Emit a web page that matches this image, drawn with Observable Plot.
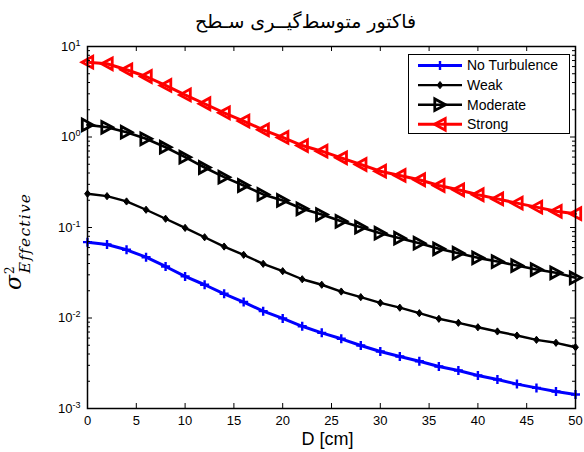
<!DOCTYPE html>
<html>
<head>
<meta charset="utf-8">
<script src="https://cdn.jsdelivr.net/npm/d3@7"></script>
<script src="https://cdn.jsdelivr.net/npm/@observablehq/plot@0.6"></script>
<style>
  body { margin: 0; background: #fff; }
  #chart { width: 584px; height: 452px; }
  svg { overflow: visible; }
</style>
</head>
<body>
<div id="chart"></div>
<script>
// Receiver aperture diameter D [cm]
const distance = [0, 2, 4, 6, 8, 10, 12, 14, 16, 18, 20, 22, 24, 26, 28, 30, 32, 34, 36, 38, 40, 42, 44, 46, 48, 50];

// Effective scintillation index per turbulence regime
const noTurbulence = [0.0689, 0.0649, 0.0567, 0.047, 0.0371, 0.0288, 0.0233, 0.0185, 0.015, 0.0119, 0.0099, 0.0081, 0.00685, 0.00589, 0.00497, 0.00426, 0.00376, 0.00333, 0.00291, 0.00263, 0.00232, 0.00209, 0.00186, 0.00169, 0.00154, 0.00143];
const weak = [0.236, 0.222, 0.194, 0.157, 0.125, 0.099, 0.078, 0.0616, 0.0499, 0.0397, 0.0329, 0.0268, 0.0233, 0.0196, 0.017, 0.0147, 0.013, 0.0113, 0.0098, 0.00885, 0.0079, 0.0071, 0.0064, 0.00574, 0.00532, 0.00475];
const moderate = [1.36, 1.28, 1.13, 0.955, 0.771, 0.598, 0.46, 0.36, 0.291, 0.232, 0.199, 0.161, 0.139, 0.117, 0.1007, 0.0865, 0.0762, 0.0671, 0.0582, 0.052, 0.0462, 0.042, 0.038, 0.0343, 0.0316, 0.0278];
const strong = [6.71, 6.44, 5.53, 4.66, 3.71, 2.92, 2.33, 1.85, 1.5, 1.2, 0.99, 0.805, 0.697, 0.589, 0.497, 0.419, 0.376, 0.337, 0.291, 0.261, 0.23, 0.207, 0.186, 0.168, 0.151, 0.142];

const seriesNames = ["No Turbulence", "Weak", "Moderate", "Strong"];
const titleText = "فاکتور متوسط‌گیــری سـطح";
const xLabel = "D [cm]";
const xTicks = [0, 5, 10, 15, 20, 25, 30, 35, 40, 45, 50];
const yTicks = [1e-3, 1e-2, 1e-1, 1, 10];
const yMinorTicks = [1e-3, 1e-2, 1e-1, 1].flatMap(d => [2, 3, 4, 5, 6, 7, 8, 9].map(k => k * d));

// Marker shapes (d3-symbol compatible)
const plusSym = {draw(ctx, size) { const r = Math.sqrt(size / Math.PI); ctx.moveTo(-r, 0); ctx.lineTo(r, 0); ctx.moveTo(0, -r); ctx.lineTo(0, r); }};
const diamondSym = {draw(ctx, size) { const r = Math.sqrt(size / Math.PI); ctx.moveTo(0, -r); ctx.lineTo(r * 0.8, 0); ctx.lineTo(0, r); ctx.lineTo(-r * 0.8, 0); ctx.closePath(); }};
const triRightSym = {draw(ctx, size) { const r = Math.sqrt(size / Math.PI); ctx.moveTo(r * 0.95, 0); ctx.lineTo(-r * 0.9, -r); ctx.lineTo(-r * 0.9, r); ctx.closePath(); }};
const triLeftSym = {draw(ctx, size) { const r = Math.sqrt(size / Math.PI); ctx.moveTo(-r * 0.95, 0); ctx.lineTo(r * 0.9, -r); ctx.lineTo(r * 0.9, r); ctx.closePath(); }};

const styles = [
  {values: noTurbulence, color: "#0000ff", lineWidth: 3, symbol: plusSym, r: 4.5, fill: "none", markerWidth: 2.4},
  {values: weak, color: "#000000", lineWidth: 2.4, symbol: diamondSym, r: 3.6, fill: "#000000", markerWidth: 1},
  {values: moderate, color: "#000000", lineWidth: 2.6, symbol: triRightSym, r: 5.8, fill: "none", markerWidth: 2.8},
  {values: strong, color: "#ff0000", lineWidth: 3, symbol: triLeftSym, r: 5.8, fill: "none", markerWidth: 2.8}
];

const W = 584, H = 452, mL = 87, mR = 9, mT = 46, mB = 44;
const frameW = W - mL - mR, frameH = H - mT - mB;
const majorLen = 5, minorLen = 3;

const marks = [];
styles.forEach((s, i) => {
  const rows = distance.map((d, j) => ({d, v: s.values[j], name: seriesNames[i]}));
  marks.push(Plot.line(rows, {x: "d", y: "v", stroke: s.color, strokeWidth: s.lineWidth}));
  marks.push(Plot.dot(rows, {x: "d", y: "v", symbol: s.symbol, r: s.r, stroke: s.color, fill: s.fill, strokeWidth: s.markerWidth}));
});

// Inward ticks on all four sides
marks.push(
  Plot.tickX(xTicks, {x: d => d, insetTop: frameH - majorLen, stroke: "black", strokeWidth: 1}),
  Plot.tickX(xTicks, {x: d => d, insetBottom: frameH - majorLen, stroke: "black", strokeWidth: 1}),
  Plot.tickY(yTicks, {y: d => d, insetRight: frameW - majorLen, stroke: "black", strokeWidth: 1}),
  Plot.tickY(yTicks, {y: d => d, insetLeft: frameW - majorLen, stroke: "black", strokeWidth: 1}),
  Plot.tickY(yMinorTicks, {y: d => d, insetRight: frameW - minorLen, stroke: "black", strokeWidth: 1}),
  Plot.tickY(yMinorTicks, {y: d => d, insetLeft: frameW - minorLen, stroke: "black", strokeWidth: 1}),
  Plot.frame({stroke: "black", strokeWidth: 1.5}),
  Plot.axisX({ticks: xTicks, tickSize: 0, tickPadding: 7, fontSize: 13, label: null}),
  Plot.axisY({ticks: yTicks, tickSize: 0, tickPadding: 7, fontSize: 13, label: null,
    tickFormat: d => String(Math.round(Math.log10(d)))}),
  Plot.text([titleText], {frameAnchor: "top", dx: -26, dy: -25, fontSize: 19, fontFamily: "DejaVu Sans", fill: "black", lineAnchor: "middle"}),
  Plot.text([xLabel], {frameAnchor: "bottom", dx: -4, dy: 31, fontSize: 18, fill: "black", lineAnchor: "middle"})
);

const chart = Plot.plot({
  width: W, height: H,
  marginLeft: mL, marginRight: mR, marginTop: mT, marginBottom: mB,
  style: {fontFamily: "'Liberation Sans', Arial, sans-serif", color: "black", background: "white"},
  x: {domain: [0, 50], axis: null},
  y: {type: "log", domain: [1e-3, 10], axis: null},
  marks
});
document.getElementById("chart").appendChild(chart);

const svg = d3.select(chart);

// Powers of ten as 10 with a raised exponent
svg.selectAll('g[aria-label="y-axis tick label"] text').each(function() {
  const exp = this.textContent;
  const t = d3.select(this);
  t.text(null);
  t.append("tspan").text("10");
  t.append("tspan").attr("font-size", 9).attr("dy", "-0.55em").text(exp);
});

// Y axis title: sigma squared, subscript "Effective"
const yl = svg.append("text")
  .attr("transform", "translate(21,290) rotate(-90)")
  .attr("text-anchor", "start")
  .attr("font-family", "'DejaVu Serif', serif")
  .attr("font-style", "italic")
  .attr("fill", "black");
yl.append("tspan").attr("font-size", 22).text("σ");
yl.append("tspan").attr("font-size", 12).attr("font-style", "normal").attr("dx", 1).attr("dy", -7).text("2");
yl.append("tspan").attr("font-size", 15.5).attr("dx", -7).attr("dy", 16).attr("letter-spacing", 1.2).text("Effective");

// Legend
const lg = svg.append("g")
  .attr("text-anchor", "start")
  .attr("font-family", "'Liberation Sans', Arial, sans-serif")
  .attr("font-size", 14);
lg.append("rect").attr("x", 408.5).attr("y", 54.5).attr("width", 161).attr("height", 79)
  .attr("fill", "white").attr("stroke", "black").attr("stroke-width", 1);
styles.forEach((s, i) => {
  const cy = 65.5 + i * 19.6;
  lg.append("line").attr("x1", 418).attr("x2", 462).attr("y1", cy).attr("y2", cy)
    .attr("stroke", s.color).attr("stroke-width", s.lineWidth);
  const p = d3.path();
  s.symbol.draw(p, Math.PI * s.r * s.r);
  lg.append("path").attr("d", p.toString()).attr("transform", `translate(440,${cy})`)
    .attr("stroke", s.color).attr("fill", s.fill).attr("stroke-width", s.markerWidth);
  lg.append("text").attr("x", 467).attr("y", cy).attr("dy", "0.35em").attr("fill", "black").text(seriesNames[i]);
});
</script>
</body>
</html>
